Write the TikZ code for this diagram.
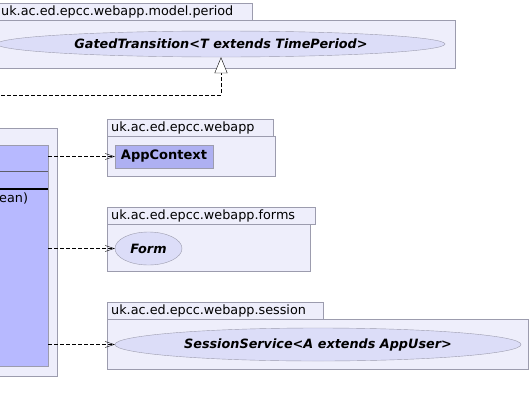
\documentclass[tikz,border=0pt]{standalone}
\usepackage{fontspec}
\setmainfont{DejaVu Sans}
\usepackage{xcolor}
\usepackage{tikz}
\usetikzlibrary{shapes.geometric,arrows.meta,positioning,calc}
\definecolor{pkgfill}{HTML}{EEEEFB}
\definecolor{pkgline}{HTML}{9C9CAE}
\definecolor{ifacefill}{HTML}{DCDDF8}
\definecolor{classfill}{HTML}{B7B9FF}
\tikzset{
  pkg/.style={draw=pkgline,fill=pkgfill},
  pkgname/.style={anchor=west,inner sep=0pt,font=\fontsize{12.8}{14}\selectfont},
  iface/.style={ellipse,draw=pkgline,fill=ifacefill,inner sep=0pt,font=\fontsize{12.8}{14}\selectfont\bfseries\itshape},
  classbox/.style={rectangle,draw=pkgline,fill=classfill,inner sep=0pt,font=\fontsize{13}{14}\selectfont\bfseries},
  dep/.style={dash pattern=on 4pt off 2pt,-{Straight Barb[open,length=9pt,width=6pt]}},
  realize/.style={dash pattern=on 4pt off 2pt,-{Triangle[open,length=16pt,width=13pt,fill=white]}}
}
\begin{document}
\begin{tikzpicture}[x=1pt,y=-1pt]
	\useasboundingbox (0,0) rectangle (532,415);
	% package model.period
	\draw[pkg] (-5,3) rectangle (252,20);
	\draw[pkg] (-5,20) rectangle (455,68);
	\node[pkgname] (periodname) at (1,11.5) {uk.ac.ed.epcc.webapp.model.period};
	\node[iface,minimum width=448pt,minimum height=26pt] (gated) at (221,44) {GatedTransition<T extends TimePeriod>};
	% outer frame and class
	\draw[pkg] (-5,128) rectangle (57,376);
	\node[classbox,minimum width=53pt,minimum height=221pt] (cls) at (21.5,255.5) {};
	\draw[pkgline!60!black] (cls.west |- 0,171) -- (cls.east |- 0,171);
	\draw[black,line width=1.6pt] (cls.west |- 0,189) -- (cls.east |- 0,189);
	\node[anchor=west,inner sep=0pt,font=\fontsize{12.8}{14}\selectfont] (meth) at (-1,198) {ean)};
	% package webapp
	\draw[pkg] (107,119) rectangle (273,136);
	\draw[pkg] (107,136) rectangle (275,176);
	\node[pkgname] (webappname) at (111,127.5) {uk.ac.ed.epcc.webapp};
	\node[classbox,fill=classfill!95!black,minimum width=98pt,minimum height=23pt] (ctx) at (164,156.5) {AppContext};
	% package forms
	\draw[pkg] (107,207) rectangle (315,224);
	\draw[pkg] (107,224) rectangle (310,271);
	\node[pkgname] (formsname) at (111,215.5) {uk.ac.ed.epcc.webapp.forms};
	\node[iface,minimum width=67pt,minimum height=33pt] (form) at (148.5,248.5) {Form};
	% package session
	\draw[pkg] (107,302) rectangle (323,319);
	\draw[pkg] (107,319) rectangle (528,369);
	\node[pkgname] (sessionname) at (111,310.5) {uk.ac.ed.epcc.webapp.session};
	\node[iface,minimum width=406pt,minimum height=33pt] (session) at (318,344.5) {SessionService<A extends AppUser>};
	% connectors
	\coordinate (realstart) at (-5,95);
	\draw[realize] (realstart) -| (gated.south);
	\draw[dep] (cls.east |- ctx.west) -- (ctx.west);
	\draw[dep] (cls.east |- form.west) -- (form.west);
	\draw[dep] (cls.east |- session.west) -- (session.west);
\end{tikzpicture}
\end{document}
